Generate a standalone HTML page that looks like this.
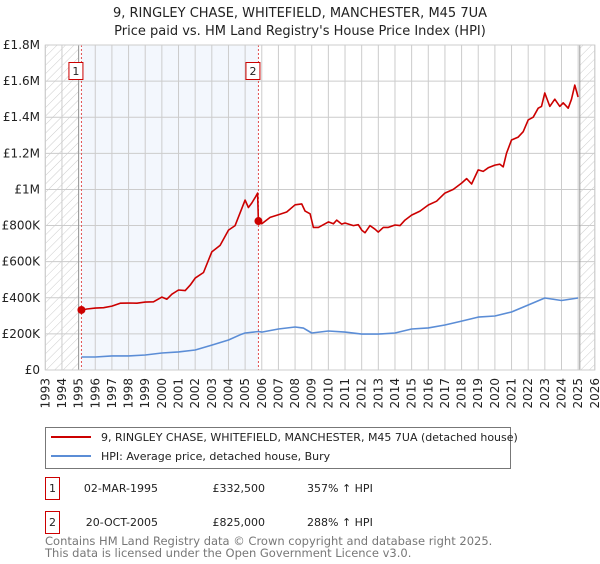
<!DOCTYPE html>
<html><head><meta charset="utf-8"><style>
body{margin:0;background:#fff;width:600px;height:560px;overflow:hidden;font-family:"DejaVu Sans","Liberation Sans",sans-serif;}
svg text{font-family:"DejaVu Sans","Liberation Sans",sans-serif;}
</style></head><body>
<svg id="chart" width="600" height="560" xmlns="http://www.w3.org/2000/svg">
<defs><pattern id="hatch" width="6" height="6" patternUnits="userSpaceOnUse" patternTransform="rotate(45)"><line x1="0" y1="0" x2="0" y2="6" stroke="#ccc" stroke-width="1"/></pattern></defs>
<text x="300" y="17" text-anchor="middle" font-size="13" fill="#222">9, RINGLEY CHASE, WHITEFIELD, MANCHESTER, M45 7UA</text>
<text x="300" y="35" text-anchor="middle" font-size="13" fill="#222">Price paid vs. HM Land Registry's House Price Index (HPI)</text>
<g id="plot"></g>
<g id="legend">
<rect x="45.5" y="427.5" width="465" height="41" fill="#fff" stroke="#777"/>
<line x1="51" y1="437" x2="91" y2="437" stroke="#cc0000" stroke-width="2"/>
<text x="101" y="441" font-size="11" fill="#222">9, RINGLEY CHASE, WHITEFIELD, MANCHESTER, M45 7UA (detached house)</text>
<line x1="51" y1="456" x2="91" y2="456" stroke="#5b8dd6" stroke-width="2"/>
<text x="101" y="460" font-size="11" fill="#222">HPI: Average price, detached house, Bury</text>
</g>
<g font-size="11" fill="#222">
<rect x="45.5" y="477.5" width="14" height="22" fill="#fff" stroke="#cc0000"/>
<text x="52.5" y="492" text-anchor="middle">1</text>
<text x="158" y="492" text-anchor="end">02-MAR-1995</text>
<text x="265" y="492" text-anchor="end">£332,500</text>
<text x="307" y="492">357% ↑ HPI</text>
<rect x="45.5" y="511.5" width="14" height="22" fill="#fff" stroke="#cc0000"/>
<text x="52.5" y="526" text-anchor="middle">2</text>
<text x="158" y="526" text-anchor="end">20-OCT-2005</text>
<text x="265" y="526" text-anchor="end">£825,000</text>
<text x="307" y="526">288% ↑ HPI</text>
</g>
<text x="45" y="545" font-size="11.5" fill="#777">Contains HM Land Registry data © Crown copyright and database right 2025.</text>
<text x="45" y="557" font-size="11.5" fill="#777">This data is licensed under the Open Government Licence v3.0.</text>
</svg>
<script>
const yearTicks=[1993,1994,1995,1996,1997,1998,1999,2000,2001,2002,2003,2004,2005,2006,2007,2008,2009,2010,2011,2012,2013,2014,2015,2016,2017,2018,2019,2020,2021,2022,2023,2024,2025,2026];
const priceTicks=[0,200,400,600,800,1000,1200,1400,1600,1800];
const priceTickLabels=["£0","£200K","£400K","£600K","£800K","£1M","£1.2M","£1.4M","£1.6M","£1.8M"];
const propYears=[1995.17,1995.5,1996,1996.5,1997,1997.5,1998,1998.5,1999,1999.5,2000,2000.3,2000.6,2001,2001.4,2001.7,2002,2002.5,2003,2003.5,2004,2004.4,2005,2005.2,2005.4,2005.6,2005.75,2005.8,2006,2006.5,2007,2007.5,2008,2008.4,2008.6,2008.9,2009.1,2009.4,2009.7,2010,2010.3,2010.5,2010.8,2011,2011.5,2011.8,2012,2012.2,2012.5,2012.8,2013,2013.3,2013.6,2014,2014.3,2014.6,2015,2015.5,2016,2016.5,2017,2017.5,2018,2018.3,2018.6,2019,2019.3,2019.6,2020,2020.3,2020.5,2020.7,2021,2021.4,2021.7,2022,2022.3,2022.6,2022.8,2023,2023.3,2023.6,2023.9,2024.1,2024.4,2024.6,2024.8,2025.0];
const propValues=[332,338,343,345,354,370,371,370,376,378,404,392,420,443,440,470,509,540,654,690,775,800,941,900,925,955,980,825,810,845,860,875,915,920,880,865,790,790,805,820,810,830,808,814,800,805,775,760,800,780,764,790,790,803,800,830,858,880,914,935,980,1000,1035,1060,1030,1108,1100,1120,1135,1140,1125,1200,1274,1290,1320,1385,1400,1450,1460,1534,1460,1500,1460,1480,1450,1500,1578,1512];
const hpiYears=[1995.17,1996,1997,1998,1999,2000,2001,2002,2003,2004,2004.7,2005,2005.8,2006,2007,2008,2008.5,2009,2010,2011,2012,2013,2014,2015,2016,2017,2018,2019,2020,2021,2022,2023,2024,2025];
const hpiValues=[72,72,78,78,83,94,100,111,138,166,195,205,213,210,227,238,232,205,216,210,199,199,205,227,233,249,271,293,299,321,360,399,385,399];
const saleYears=[1995.17,2005.8];
const saleValues=[332.5,825];
const saleLabels=["1","2"];

const X0=45.3,X1=594.8,Y0=370,Y1=45,YMIN=1993,YMAX=2026,VMAX=1800;
const xs=y=>X0+(y-YMIN)/(YMAX-YMIN)*(X1-X0);
const ys=v=>Y0-v/VMAX*(Y0-Y1);
const NS="http://www.w3.org/2000/svg";
const plot=document.getElementById('plot');
function mk(tag,attrs,parent){const e=document.createElementNS(NS,tag);for(const k in attrs)e.setAttribute(k,attrs[k]);(parent||plot).appendChild(e);return e;}
const sh=mk('rect',{x:xs(saleYears[0]),y:Y1,width:xs(saleYears[1])-xs(saleYears[0]),height:Y0-Y1,fill:'#eef3fc',opacity:0.7});


const h1=mk('rect',{x:X0,y:Y1,width:xs(1995)-X0,height:Y0-Y1,fill:'url(#hatch)'});


const h2=mk('rect',{x:xs(2025.1),y:Y1,width:X1-xs(2025.1),height:Y0-Y1,fill:'url(#hatch)'});


yearTicks.forEach(y=>{
  const g=mk('line',{x1:xs(y),x2:xs(y),y1:Y1,y2:Y0,stroke:'#ccc','stroke-width':1});
  
  
  const t=mk('text',{x:0,y:0,'font-size':12,fill:'#222','text-anchor':'end',transform:`translate(${xs(y)+4},${Y0+8}) rotate(-90)`});
  t.textContent=y;
  
  
});
priceTicks.forEach((v,i)=>{
  const g=mk('line',{x1:X0,x2:X1,y1:ys(v),y2:ys(v),stroke:'#ccc','stroke-width':1});
  
  
  const t=mk('text',{x:40,y:ys(v)+4,'font-size':12,fill:'#222','text-anchor':'end'});
  t.textContent=priceTickLabels[i];
  
  
});
const b1=mk('line',{x1:xs(1995),x2:xs(1995),y1:Y1,y2:Y0,stroke:'#999','stroke-width':1});


const b2=mk('line',{x1:xs(2025.1),x2:xs(2025.1),y1:Y1,y2:Y0,stroke:'#999','stroke-width':1});


saleYears.forEach((y,i)=>{
  const l=mk('line',{x1:xs(y),x2:xs(y),y1:Y1,y2:Y0,stroke:'#e05050','stroke-width':1,'stroke-dasharray':'2,2'});
  
  
  const bx=mk('rect',{x:xs(y)-12.5,y:62.5,width:14,height:17,fill:'#fff',stroke:'#cc0000'});
  
  
  const t=mk('text',{x:xs(y)-5.5,y:75,'font-size':11,fill:'#222','text-anchor':'middle'});
  t.textContent=saleLabels[i];
  
  
});
function path(xa,va,color,name){
  const d=xa.map((y,i)=>(i?'L':'M')+xs(y).toFixed(1)+','+ys(va[i]).toFixed(1)).join('');
  const p=mk('path',{d:d,fill:'none',stroke:color,'stroke-width':1.6,'stroke-linejoin':'round'});
  
  
}
path(hpiYears,hpiValues,'#5b8dd6','hpi-line');
path(propYears,propValues,'#cc0000','property-price-line');
saleYears.forEach((y,i)=>{
  const c=mk('circle',{cx:xs(y),cy:ys(saleValues[i]),r:4,fill:'#cc0000'});
  
  
});
const fr=mk('rect',{x:X0,y:Y1,width:X1-X0,height:Y0-Y1,fill:'none',stroke:'#ccc'});


</script>
</body></html>
